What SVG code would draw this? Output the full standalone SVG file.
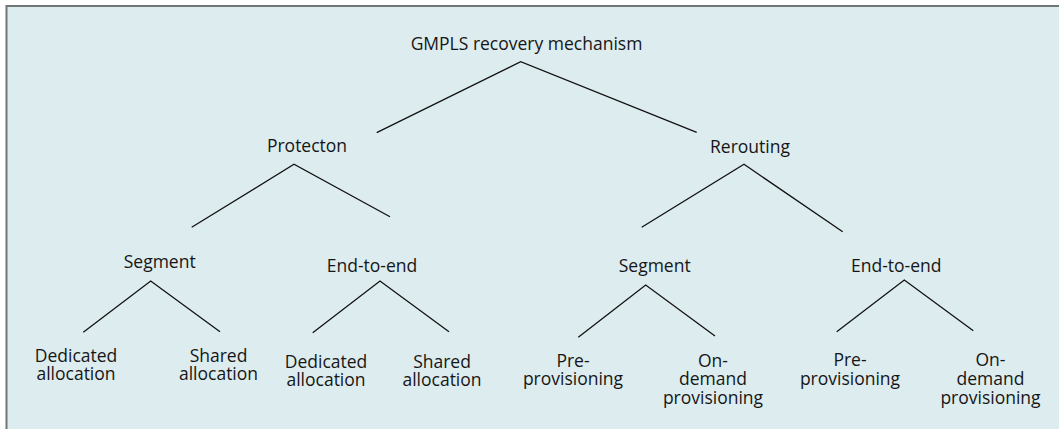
<svg xmlns="http://www.w3.org/2000/svg" width="1059" height="429" viewBox="0 0 1059 429">
  <style>
    .frame { fill: #ddecef; stroke: #6f7777; stroke-width: 2; }
    .lbl { font-family: "Open Sans", "Noto Sans", "Liberation Sans", sans-serif; font-size: 17.5px; fill: #161616; text-anchor: middle; }
    .edge { stroke: #111; stroke-width: 1.3; fill: none; stroke-linecap: butt; }
  </style>
  <rect width="1059" height="429" fill="#ffffff"/>
  <!-- panel: only the top and left edges fall inside the canvas -->
  <rect class="frame" x="6.5" y="6" width="1060" height="440"/>

  <g id="connectors">
    <polyline class="edge" points="376.7,132.7 520.7,61.7 696.7,132.3"/>
    <polyline class="edge" points="191.7,227.3 294,164.3 390,216.7"/>
    <polyline class="edge" points="641.7,227.3 744,164.3 842.7,231.7"/>
    <polyline class="edge" points="83.3,332.3 150.7,281 220,331.7"/>
    <polyline class="edge" points="312.7,332.7 380,281 449,331.7"/>
    <polyline class="edge" points="578.3,337.3 645.7,285 715,336"/>
    <polyline class="edge" points="836.7,331.7 904.3,280 973.3,330.7"/>
  </g>

  <g id="root"><text class="lbl" x="526.5" y="50">GMPLS recovery mechanism</text></g>
  <g id="protection"><text class="lbl" x="307" y="152">Protecton</text></g>
  <g id="rerouting"><text class="lbl" x="750" y="153">Rerouting</text></g>

  <g id="prot-segment"><text class="lbl" x="159.7" y="268">Segment</text></g>
  <g id="prot-end-to-end"><text class="lbl" x="372" y="272">End-to-end</text></g>
  <g id="rer-segment"><text class="lbl" x="654.7" y="272">Segment</text></g>
  <g id="rer-end-to-end"><text class="lbl" x="896.3" y="272">End-to-end</text></g>

  <g id="prot-seg-dedicated">
    <text class="lbl" x="76" y="361.7">Dedicated<tspan x="76" dy="18.3">allocation</tspan></text>
  </g>
  <g id="prot-seg-shared">
    <text class="lbl" x="218.5" y="361.7">Shared<tspan x="218.5" dy="18.3">allocation</tspan></text>
  </g>
  <g id="prot-e2e-dedicated">
    <text class="lbl" x="326" y="368">Dedicated<tspan x="326" dy="18">allocation</tspan></text>
  </g>
  <g id="prot-e2e-shared">
    <text class="lbl" x="442" y="368">Shared<tspan x="442" dy="18">allocation</tspan></text>
  </g>

  <g id="rer-seg-pre">
    <text class="lbl" x="573" y="366.7">Pre-<tspan x="573" dy="18.3">provisioning</tspan></text>
  </g>
  <g id="rer-seg-ondemand">
    <text class="lbl" x="713" y="366.7">On-<tspan x="713" dy="18.3">demand</tspan><tspan x="713" dy="19">provisioning</tspan></text>
  </g>
  <g id="rer-e2e-pre">
    <text class="lbl" x="850" y="366">Pre-<tspan x="850" dy="19">provisioning</tspan></text>
  </g>
  <g id="rer-e2e-ondemand">
    <text class="lbl" x="990.5" y="366">On-<tspan x="990.5" dy="19">demand</tspan><tspan x="990.5" dy="19">provisioning</tspan></text>
  </g>
</svg>
